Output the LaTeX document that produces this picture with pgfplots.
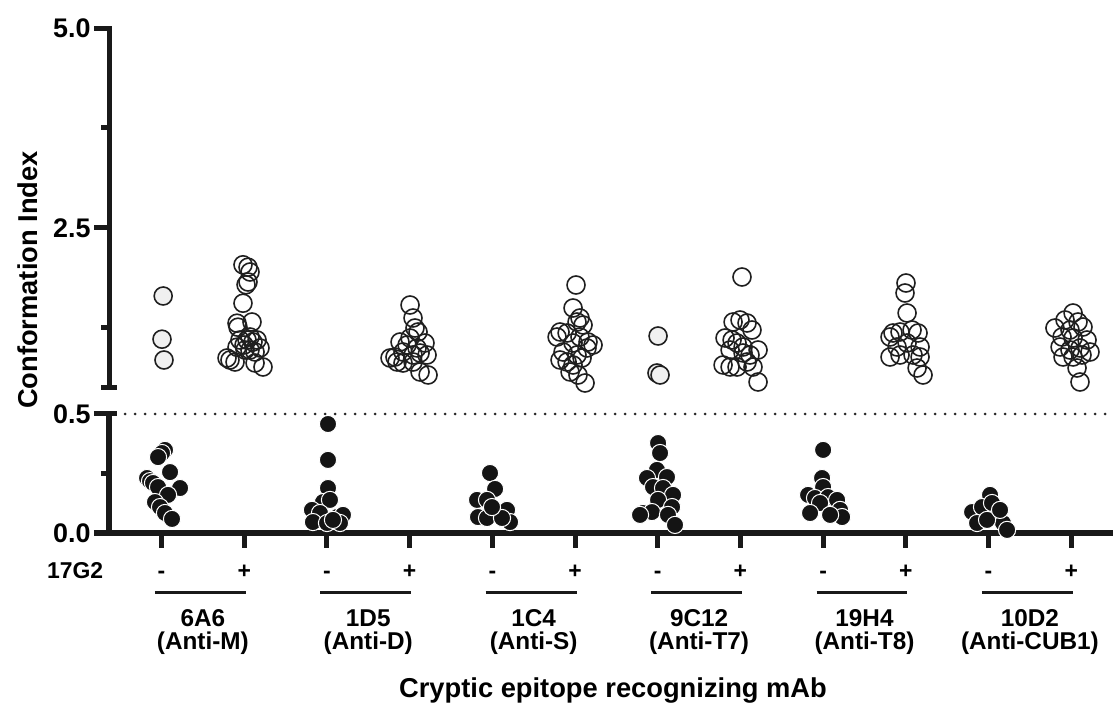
\documentclass[border=0pt]{standalone}
\usepackage{fontspec}
\setmainfont{Liberation Sans}
\usepackage{pgfplots}
\pgfplotsset{compat=1.18}
\tikzset{grp/.style={anchor=base, inner sep=0pt, font=\fontsize{12.2}{14}\selectfont\bfseries}}
\begin{document}
\begin{tikzpicture}[font=\bfseries]
\useasboundingbox (0,0) rectangle (556.5bp,352.5bp);
\pgfplotsset{
  common/.style={
    scale only axis, width=502bp, xmin=-0.635, xmax=11.505,
    clip=false,
    axis line style={line width=2.5bp, line cap=rect, black!90},
    tick style={line width=2.5bp, black!90},
    major tick length=7.5bp, minor tick length=4bp,
    tick align=outside,
    yticklabel style={font=\fontsize{13.5}{16}\selectfont\bfseries, inner sep=1.5bp},
  },
  openmark/.style={only marks, mark=o, mark size=4.5bp, draw=black!88, mark options={line width=0.8bp}},
  greymark/.style={only marks, mark=*, mark size=4.5bp, mark options={fill=black!6, draw=black!88, line width=0.8bp}},
  blackmark/.style={only marks, mark=*, mark size=4.3bp, mark options={fill=black!92, draw=white, line width=0.5bp}},
}
% ---------------- lower segment ----------------
\begin{axis}[common, at={(54.5bp,86bp)}, anchor=south west, height=59.5bp,
  ymin=0, ymax=0.5,
  axis x line*=bottom, axis y line*=left,
  xtick={0,...,11}, xticklabels={-,+,-,+,-,+,-,+,-,+,-,+},
  xticklabel style={font=\fontsize{11.5}{13}\selectfont\bfseries, anchor=base, yshift=-15bp},
  ytick={0,0.5}, yticklabels={0.0,0.5}, minor ytick={0.25},
  extra y ticks={0.5}, extra y tick labels={},
  extra y tick style={tick align=inside, major tick length=4bp},
]
\addplot[line width=1.4bp, line cap=round, dash pattern=on 0bp off 5bp, black!85] coordinates {(-0.44,0.5) (11.5,0.5)};
\addplot[blackmark] coordinates {
 (-0.175,0.231) (-0.139,0.218) (-0.103,0.210) (-0.042,0.193) (0.042,0.349) (0.006,0.336) (-0.042,0.319)
 (0.103,0.256) (0.224,0.189) (0.079,0.160) (-0.079,0.130) (-0.018,0.109) (0.042,0.084) (0.127,0.059)
 (2.013,0.458) (2.013,0.307) (2.013,0.189) (1.952,0.130) (2.037,0.139) (1.819,0.097) (1.916,0.084)
 (2.122,0.067) (2.194,0.076) (1.831,0.046) (2.001,0.042) (2.158,0.042) (2.073,0.055)
 (3.972,0.252) (4.033,0.185) (3.815,0.139) (3.936,0.139) (4.057,0.088) (4.178,0.097) (3.827,0.067)
 (3.936,0.063) (4.214,0.046) (4.117,0.063) (3.996,0.109)
 (6.004,0.378) (6.028,0.336) (5.991,0.265) (5.870,0.231) (6.112,0.235) (5.943,0.193) (6.064,0.189)
 (6.185,0.160) (6.004,0.139) (5.822,0.084) (5.930,0.088) (6.173,0.109) (6.124,0.076) (6.209,0.034) (5.786,0.076)
 (8.000,0.349) (7.987,0.231) (8.000,0.193) (7.818,0.160) (7.902,0.147) (8.060,0.151) (8.169,0.139)
 (7.963,0.126) (7.842,0.084) (8.205,0.097) (8.229,0.067) (8.084,0.076)
 (10.018,0.160) (9.801,0.088) (9.921,0.109) (10.042,0.126) (10.103,0.067) (10.175,0.042) (9.861,0.042)
 (9.982,0.055) (10.224,0.013) (10.139,0.097)
};
\node[anchor=base east, font=\fontsize{11.5}{13}\selectfont\bfseries] at ([yshift=-22.5bp]axis cs:-0.62,0) {17G2};
\draw[line width=1.5bp, black!90] ([yshift=-29.5bp]axis cs:-0.08,0) -- ([yshift=-29.5bp]axis cs:1.02,0);
\draw[line width=1.5bp, black!90] ([yshift=-29.5bp]axis cs:1.92,0) -- ([yshift=-29.5bp]axis cs:3.02,0);
\draw[line width=1.5bp, black!90] ([yshift=-29.5bp]axis cs:3.92,0) -- ([yshift=-29.5bp]axis cs:5.02,0);
\draw[line width=1.5bp, black!90] ([yshift=-29.5bp]axis cs:5.92,0) -- ([yshift=-29.5bp]axis cs:7.02,0);
\draw[line width=1.5bp, black!90] ([yshift=-29.5bp]axis cs:7.92,0) -- ([yshift=-29.5bp]axis cs:9.02,0);
\draw[line width=1.5bp, black!90] ([yshift=-29.5bp]axis cs:9.92,0) -- ([yshift=-29.5bp]axis cs:11.02,0);
\node[grp] at ([yshift=-46.5bp]axis cs:0.5,0) {6A6};
\node[grp] at ([yshift=-58bp]axis cs:0.5,0) {(Anti-M)};
\node[grp] at ([yshift=-46.5bp]axis cs:2.5,0) {1D5};
\node[grp] at ([yshift=-58bp]axis cs:2.5,0) {(Anti-D)};
\node[grp] at ([yshift=-46.5bp]axis cs:4.5,0) {1C4};
\node[grp] at ([yshift=-58bp]axis cs:4.5,0) {(Anti-S)};
\node[grp] at ([yshift=-46.5bp]axis cs:6.5,0) {9C12};
\node[grp] at ([yshift=-58bp]axis cs:6.5,0) {(Anti-T7)};
\node[grp] at ([yshift=-46.5bp]axis cs:8.5,0) {19H4};
\node[grp] at ([yshift=-58bp]axis cs:8.5,0) {(Anti-T8)};
\node[grp] at ([yshift=-46.5bp]axis cs:10.5,0) {10D2};
\node[grp] at ([yshift=-58bp]axis cs:10.5,0) {(Anti-CUB1)};
\end{axis}
% ---------------- upper segment ----------------
\begin{axis}[common, at={(54.5bp,158.5bp)}, anchor=south west, height=180bp,
  ymin=0.5, ymax=5,
  axis x line=none, axis y line*=left,
  ytick={2.5,5}, yticklabels={2.5,5.0}, minor ytick={1.25,3.75},
  extra y ticks={0.5}, extra y tick labels={},
  extra y tick style={tick align=center, major tick length=8bp},
]
\addplot[greymark] coordinates {
 (0.02,1.65) (0.006,1.11) (0.03,0.85)
 (6.004,1.15) (5.991,0.6875) (6.028,0.6625)
};
\addplot[openmark] coordinates {
 (0.985,2.04) (1.046,2.01) (1.070,1.95) (1.046,1.825) (1.022,1.79) (0.985,1.56) (1.094,1.325)
 (0.913,1.31) (0.925,1.26) (1.034,1.10) (0.949,1.10) (1.106,1.075) (1.191,1.00) (1.155,1.10)
 (1.010,0.975) (0.913,1.01) (0.828,0.85) (0.889,0.825) (0.792,0.875) (1.131,0.8125) (1.227,0.7625)
 (1.070,0.975) (1.070,1.1375) (0.998,1.0375) (1.131,0.95)
 (3.005,1.5375) (3.041,1.375) (3.065,1.25) (3.102,1.20) (2.848,0.825) (2.763,0.875) (3.126,0.70)
 (3.223,0.6625) (3.186,1.0625) (2.969,1.0375) (2.920,0.95) (3.041,0.9125) (3.126,0.9375) (2.884,1.075)
 (3.005,1.125) (3.090,1.0) (3.211,0.9125) (2.823,0.8875) (2.920,0.8125) (3.041,0.825)
 (5.012,1.7875) (4.976,1.50) (5.060,1.375) (5.097,1.2875) (5.024,1.325) (4.819,1.20) (4.783,1.1375)
 (4.904,1.1875) (5.060,1.1375) (4.976,1.0625) (5.218,1.0375) (5.145,1.0) (4.855,0.95) (5.024,0.9125)
 (4.904,0.825) (4.819,0.85) (4.976,0.7875) (4.940,0.70) (5.036,0.6625) (5.121,0.5625) (5.157,1.075) (5.085,0.875)
 (7.019,1.8875) (6.911,1.325) (6.995,1.35) (7.080,1.3125) (7.140,1.225) (6.814,1.125) (6.899,1.10)
 (6.959,1.0625) (7.032,1.0125) (7.213,0.975) (6.875,0.975) (7.116,0.9125) (6.790,0.7875) (6.875,0.7625)
 (6.959,0.7625) (7.080,0.825) (7.152,0.7625) (7.032,0.9375) (7.213,0.575)
 (9.002,1.8125) (8.990,1.6875) (9.015,1.4375) (8.845,1.1875) (8.809,1.1375) (8.930,1.20) (9.075,1.225)
 (9.148,1.1875) (8.894,1.0125) (9.015,1.0625) (9.172,1.0125) (8.809,0.8875) (8.930,0.9125) (9.087,0.9125)
 (9.172,0.8875) (9.136,0.75) (9.208,0.6625)
 (11.022,1.4375) (10.925,1.35) (11.082,1.325) (10.803,1.25) (10.985,1.225) (11.142,1.2625) (10.889,1.1375)
 (11.022,1.125) (11.191,1.10) (10.865,1.0125) (10.985,0.975) (11.106,1.0) (11.227,0.95) (10.901,0.8875)
 (11.022,0.8875) (11.130,0.9125) (11.070,0.75) (11.106,0.575)
};
\end{axis}
\node[rotate=90, font=\fontsize{13.7}{16}\selectfont\bfseries] at (14bp,212.5bp) {Conformation Index};
\node[anchor=base, font=\fontsize{13.7}{16}\selectfont\bfseries] at (306.5bp,4bp) {Cryptic epitope recognizing mAb};
\end{tikzpicture}
\end{document}
